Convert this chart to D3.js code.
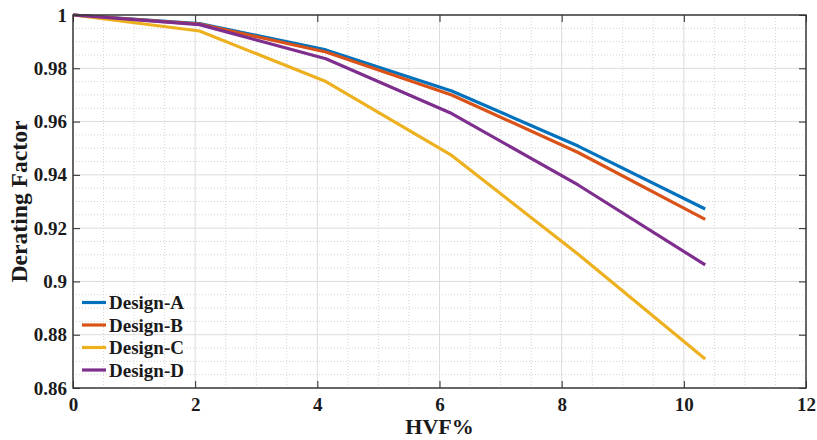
<!DOCTYPE html>
<html>
<head>
<meta charset="utf-8">
<script src="https://cdn.jsdelivr.net/npm/d3@7"></script>
<style>
  body { margin: 0; background: #fff; }
  text { font-family: "Liberation Serif", "Times New Roman", serif; font-weight: bold; fill: #1a1a1a; }
</style>
</head>
<body>
<div id="root"></div>
<script>
const width = 817;
const height = 440;
const margin = {top: 15, right: 11, bottom: 52, left: 73};

// data
const hvf = [0, 2.07, 4.14, 6.2, 8.27, 10.35];
const designA = [1, 0.9968, 0.9869, 0.9715, 0.9508, 0.9272];
const designB = [1, 0.9966, 0.9861, 0.9700, 0.9484, 0.9233];
const designC = [1, 0.9940, 0.9750, 0.9473, 0.9102, 0.8709];
const designD = [1, 0.9964, 0.9836, 0.9630, 0.9362, 0.9062];
const seriesNames = ['Design-A', 'Design-B', 'Design-C', 'Design-D'];
const seriesColors = ['#0072BD', '#D95319', '#EDB120', '#7E2F8E'];
const xTicks = [0, 2, 4, 6, 8, 10, 12];
const yTicks = [0.86, 0.88, 0.9, 0.92, 0.94, 0.96, 0.98, 1];

const allSeries = [designA, designB, designC, designD];

const x = d3.scaleLinear().domain([0, 12]).range([margin.left, width - margin.right]);
const y = d3.scaleLinear().domain([0.86, 1]).range([height - margin.bottom, margin.top]);

const svg = d3.select("#root").append("svg")
  .attr("width", width)
  .attr("height", height);

// minor grid (dotted)
const xMinor = d3.range(0, 12.001, 0.5).filter(v => Math.abs(v % 2) > 1e-6);
const yMinor = d3.range(0.86, 1.0001, 0.005).filter(v => Math.abs(Math.round(v * 1000) % 20) > 1e-6);

svg.append("g").selectAll("line")
  .data(xMinor).enter().append("line")
    .attr("x1", d => x(d)).attr("x2", d => x(d))
    .attr("y1", y(0.86)).attr("y2", y(1))
    .style("stroke", "#d4d4d4")
    .style("stroke-width", 1)
    .style("stroke-dasharray", "1,2");

svg.append("g").selectAll("line")
  .data(yMinor).enter().append("line")
    .attr("x1", x(0)).attr("x2", x(12))
    .attr("y1", d => y(d)).attr("y2", d => y(d))
    .style("stroke", "#d4d4d4")
    .style("stroke-width", 1)
    .style("stroke-dasharray", "1,2");

// major grid
svg.append("g").selectAll("line")
  .data(xTicks).enter().append("line")
    .attr("x1", d => x(d)).attr("x2", d => x(d))
    .attr("y1", y(0.86)).attr("y2", y(1))
    .style("stroke", "#dcdcdc")
    .style("stroke-width", 1);

svg.append("g").selectAll("line")
  .data(yTicks).enter().append("line")
    .attr("x1", x(0)).attr("x2", x(12))
    .attr("y1", d => y(d)).attr("y2", d => y(d))
    .style("stroke", "#dcdcdc")
    .style("stroke-width", 1);

// lines
const line = d3.line()
  .x((d, i) => x(hvf[i]))
  .y(d => y(d));

svg.append("g").selectAll("path")
  .data(allSeries).enter().append("path")
    .attr("d", d => line(d))
    .style("fill", "none")
    .style("stroke", (d, i) => seriesColors[i])
    .style("stroke-width", 3.2)
    .style("stroke-linejoin", "round");

// axes: ticks inside on all four sides
const tickLen = 7;
const axisColor = "#262626";
const tickFont = g => g.selectAll("text")
  .style("font-size", "19px")
  .style("font-family", "Liberation Serif")
  .style("font-weight", "bold")
  .style("fill", "#1a1a1a");

svg.append("g")
  .attr("transform", `translate(0, ${y(0.86)})`)
  .call(d3.axisBottom(x).tickValues(xTicks).tickFormat(d3.format("d")).tickSize(-tickLen).tickPadding(10))
  .call(g => g.select(".domain").remove())
  .call(g => g.selectAll("line").style("stroke", axisColor))
  .call(tickFont);

svg.append("g")
  .attr("transform", `translate(${x(0)}, 0)`)
  .call(d3.axisLeft(y).tickValues(yTicks).tickFormat(d => d3.format("")(+d.toFixed(2))).tickSize(-tickLen).tickPadding(6))
  .call(g => g.select(".domain").remove())
  .call(g => g.selectAll("line").style("stroke", axisColor))
  .call(tickFont);

svg.append("g")
  .attr("transform", `translate(0, ${y(1)})`)
  .call(d3.axisTop(x).tickValues(xTicks).tickFormat("").tickSize(-tickLen))
  .call(g => g.select(".domain").remove())
  .call(g => g.selectAll("line").style("stroke", axisColor));

svg.append("g")
  .attr("transform", `translate(${x(12)}, 0)`)
  .call(d3.axisRight(y).tickValues(yTicks).tickFormat("").tickSize(-tickLen))
  .call(g => g.select(".domain").remove())
  .call(g => g.selectAll("line").style("stroke", axisColor));

// box
svg.append("rect")
  .attr("x", x(0)).attr("y", y(1))
  .attr("width", x(12) - x(0)).attr("height", y(0.86) - y(1))
  .style("fill", "none")
  .style("stroke", "#3a3a3a")
  .style("stroke-width", 1.5);

// axis labels
svg.append("text")
  .attr("x", (x(0) + x(12)) / 2)
  .attr("y", 434)
  .attr("text-anchor", "middle")
  .style("font-size", "22px")
  .text("HVF%");

svg.append("text")
  .attr("transform", `translate(27, ${(y(0.86) + y(1)) / 2}) rotate(-90)`)
  .attr("text-anchor", "middle")
  .attr("textLength", 162)
  .attr("lengthAdjust", "spacingAndGlyphs")
  .style("font-size", "23px")
  .text("Derating Factor");

// legend
const legend = svg.append("g").selectAll("g")
  .data(seriesNames).enter().append("g")
    .attr("transform", (d, i) => `translate(82, ${302.5 + i * 22.5})`);

legend.append("line")
  .attr("x1", 0).attr("x2", 24)
  .style("stroke", (d, i) => seriesColors[i])
  .style("stroke-width", 3.2);

legend.append("text")
  .attr("x", 27)
  .attr("dy", "0.35em")
  .style("font-size", "19px")
  .text(d => d);
</script>
</body>
</html>
